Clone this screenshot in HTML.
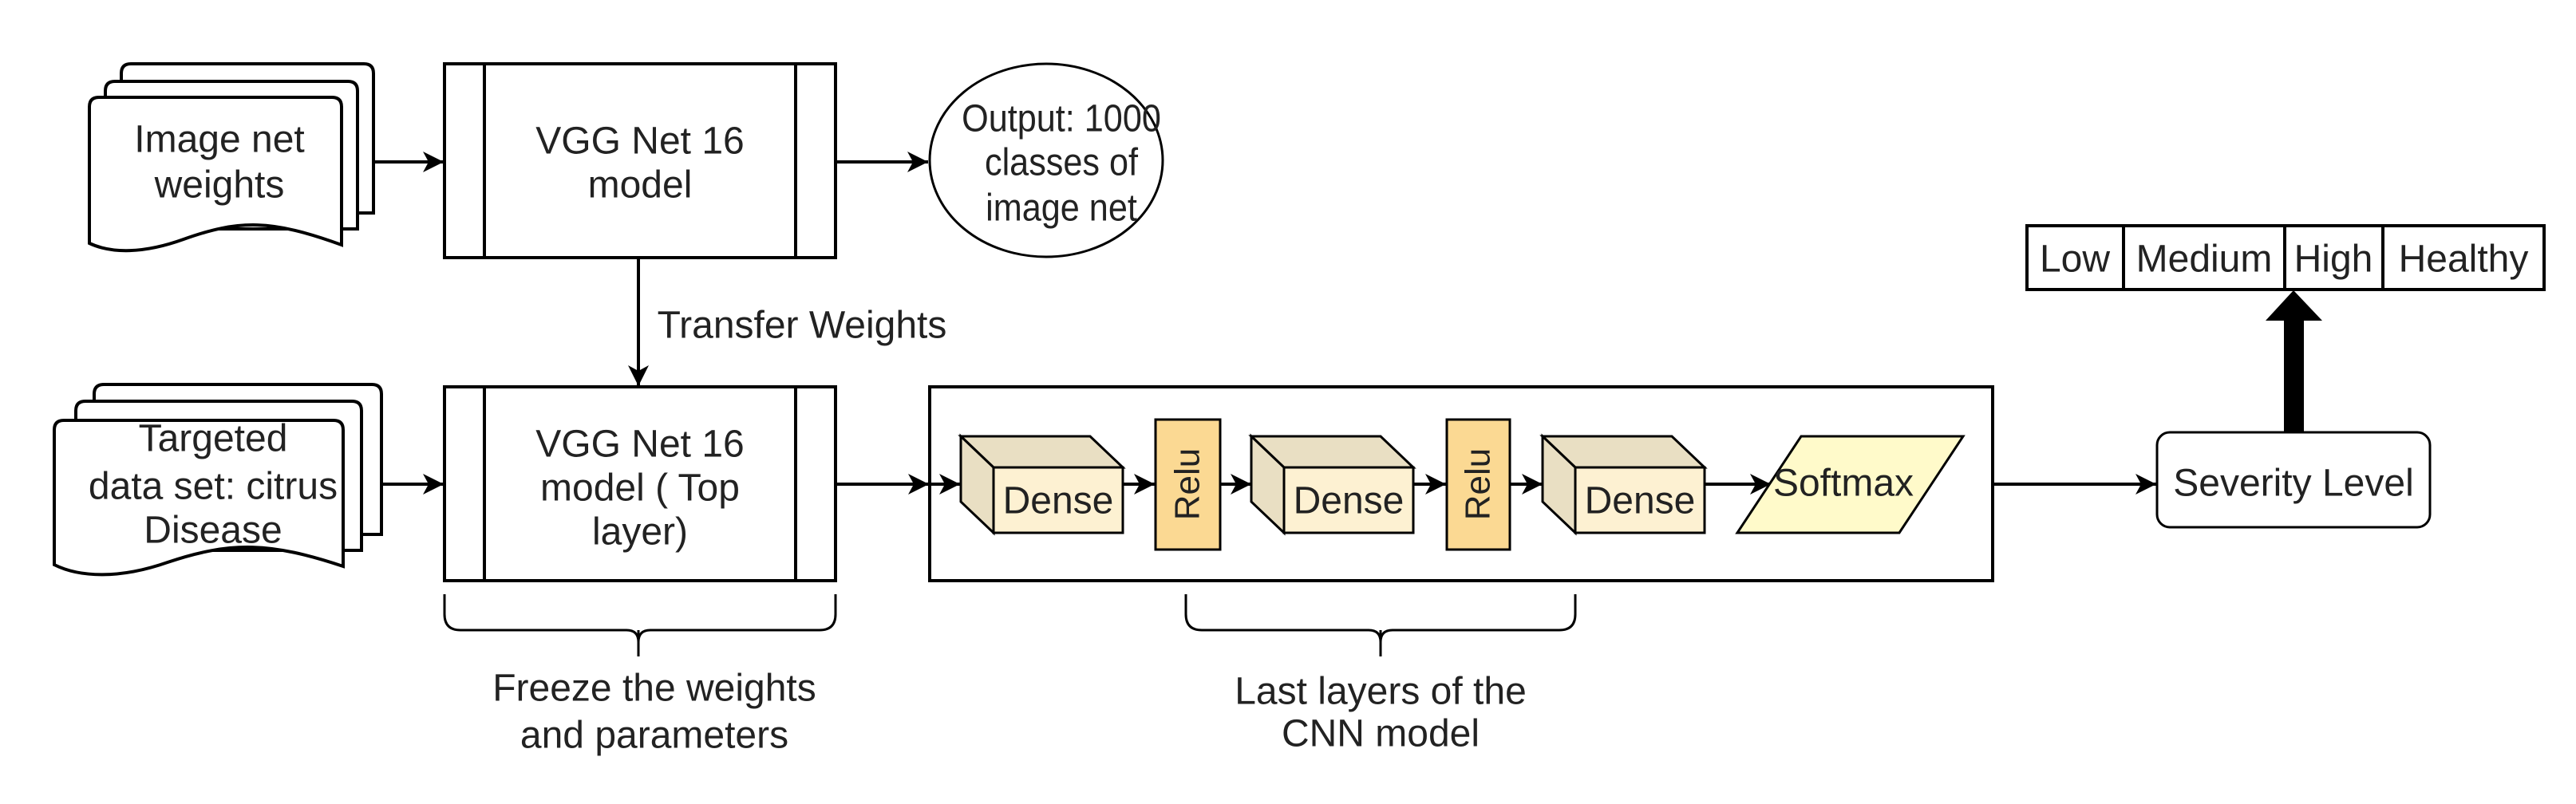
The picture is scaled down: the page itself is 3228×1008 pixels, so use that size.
<!DOCTYPE html>
<html><head><meta charset="utf-8"><style>
html,body{margin:0;padding:0;background:#fff;}
svg{display:block;}
text{font-family:"Liberation Sans",Arial,sans-serif;font-size:48px;fill:#222;text-anchor:middle;dominant-baseline:central;}
</style></head><body>
<svg width="3228" height="1008" viewBox="0 0 3228 1008" xmlns="http://www.w3.org/2000/svg">
<defs>
<marker id="ah" markerWidth="28" markerHeight="26" refX="26" refY="13" orient="auto" markerUnits="userSpaceOnUse">
<path d="M0,0 L26,13 L0,26 L7,13 Z" fill="#000"/>
</marker>
</defs>
<rect width="3228" height="1008" fill="#fff"/>

<g stroke="#000" stroke-width="4" fill="#fff">
<path d="M152,267 V92 Q152,80 164,80 H456 Q468,80 468,92 V267 Z"/>
<path d="M132,287 V114 Q132,102 144,102 H436 Q448,102 448,114 V287 Z"/>
<path d="M112,305 V134 Q112,122 124,122 H416 Q428,122 428,134 V307 C340,275 300,275 230,300 C180,318 140,318 112,305 Z"/>
</g>
<text x="275" y="175">Image net</text>
<text x="275" y="232">weights</text>

<g stroke="#000" stroke-width="4" fill="#fff">
<path d="M118,670 V494 Q118,482 130,482 H466 Q478,482 478,494 V670 Z"/>
<path d="M95,690 V515 Q95,503 107,503 H441 Q453,503 453,515 V690 Z"/>
<path d="M68,708 V539 Q68,527 80,527 H418 Q430,527 430,539 V710 C340,680 290,678 210,705 C150,726 100,724 68,708 Z"/>
</g>
<text x="267" y="550">Targeted</text>
<text x="267" y="610">data set: citrus</text>
<text x="267" y="665">Disease</text>

<g stroke="#000" stroke-width="4" fill="#fff">
<rect x="557" y="80" width="490" height="243"/>
<line x1="607" y1="80" x2="607" y2="323"/>
<line x1="997" y1="80" x2="997" y2="323"/>
<rect x="557" y="485" width="490" height="243"/>
<line x1="607" y1="485" x2="607" y2="728"/>
<line x1="997" y1="485" x2="997" y2="728"/>
</g>
<text x="802" y="177">VGG Net 16</text>
<text x="802" y="232">model</text>
<text x="802" y="557">VGG Net 16</text>
<text x="802" y="612">model ( Top</text>
<text x="802" y="667">layer)</text>

<ellipse cx="1311" cy="201" rx="146" ry="121" fill="#fff" stroke="#000" stroke-width="3"/>
<text transform="translate(1330,148) scale(0.9,1)">Output: 1000</text>
<text transform="translate(1330,203) scale(0.9,1)">classes of</text>
<text transform="translate(1330,260) scale(0.9,1)">image net</text>

<g stroke="#000" stroke-width="4" fill="none">
<line x1="468" y1="203" x2="556" y2="203" marker-end="url(#ah)"/>
<line x1="1047" y1="203" x2="1163" y2="203" marker-end="url(#ah)"/>
<line x1="800" y1="323" x2="800" y2="484" marker-end="url(#ah)"/>
<line x1="478" y1="607" x2="556" y2="607" marker-end="url(#ah)"/>
<line x1="1047" y1="607" x2="1164" y2="607" marker-end="url(#ah)"/>
</g>
<text x="1005" y="408">Transfer Weights</text>

<rect x="1165" y="485" width="1332" height="243" fill="#fff" stroke="#000" stroke-width="4"/>

<g stroke="#000" stroke-width="4" fill="none">
<line x1="1165" y1="607" x2="1203" y2="607" marker-end="url(#ah)"/>
<line x1="1407" y1="607" x2="1447" y2="607" marker-end="url(#ah)"/>
<line x1="1529" y1="607" x2="1568" y2="607" marker-end="url(#ah)"/>
<line x1="1772" y1="607" x2="1812" y2="607" marker-end="url(#ah)"/>
<line x1="1892" y1="607" x2="1933" y2="607" marker-end="url(#ah)"/>
<line x1="2137" y1="607" x2="2219" y2="607" marker-end="url(#ah)"/>
<line x1="2497" y1="607" x2="2702" y2="607" marker-end="url(#ah)"/>
</g>

<g stroke="#000" stroke-width="3">
<g>
<path d="M1204,547 H1366 L1407,586 H1245 Z" fill="#e9dfc3"/>
<path d="M1204,547 L1245,586 V668 L1204,629 Z" fill="#e9dfc3"/>
<rect x="1245" y="586" width="162" height="82" fill="#fdf1d2"/>
</g>
<g transform="translate(364,0)">
<path d="M1204,547 H1366 L1407,586 H1245 Z" fill="#e9dfc3"/>
<path d="M1204,547 L1245,586 V668 L1204,629 Z" fill="#e9dfc3"/>
<rect x="1245" y="586" width="162" height="82" fill="#fdf1d2"/>
</g>
<g transform="translate(729,0)">
<path d="M1204,547 H1366 L1407,586 H1245 Z" fill="#e9dfc3"/>
<path d="M1204,547 L1245,586 V668 L1204,629 Z" fill="#e9dfc3"/>
<rect x="1245" y="586" width="162" height="82" fill="#fdf1d2"/>
</g>
<rect x="1448" y="526" width="81" height="163" fill="#fbd993"/>
<rect x="1813" y="526" width="79" height="163" fill="#fbd993"/>
<path d="M2257,547 H2460 L2380,668 H2177 Z" fill="#fffaca"/>
</g>
<text x="1326" y="628">Dense</text>
<text x="1690" y="628">Dense</text>
<text x="2055" y="628">Dense</text>
<text style="font-size:44px" transform="translate(1488,607) rotate(-90)">Relu</text>
<text style="font-size:44px" transform="translate(1852,607) rotate(-90)">Relu</text>
<text x="2310" y="606">Softmax</text>

<g stroke="#000" stroke-width="3" fill="none">
<path d="M557,745 V770 Q557,790 577,790 H785 Q800,790 800,805 Q800,790 815,790 H1027 Q1047,790 1047,770 V745"/>
<line x1="800" y1="790" x2="800" y2="823"/>
<path d="M1486,745 V770 Q1486,790 1506,790 H1715 Q1730,790 1730,805 Q1730,790 1745,790 H1954 Q1974,790 1974,770 V745"/>
<line x1="1730" y1="790" x2="1730" y2="823"/>
</g>
<text x="820" y="863">Freeze the weights</text>
<text x="820" y="922">and parameters</text>
<text x="1730" y="867">Last layers of the</text>
<text x="1730" y="920">CNN model</text>

<rect x="2703" y="542" width="342" height="119" rx="16" fill="#fff" stroke="#000" stroke-width="3"/>
<text x="2874" y="606">Severity Level</text>

<rect x="2862" y="400" width="25" height="143" fill="#000"/>
<path d="M2839,402 L2874,364 L2910,402 Z" fill="#000"/>

<g stroke="#000" stroke-width="4" fill="#fff">
<rect x="2540" y="283" width="648" height="80"/>
<line x1="2661" y1="283" x2="2661" y2="363"/>
<line x1="2863" y1="283" x2="2863" y2="363"/>
<line x1="2986" y1="283" x2="2986" y2="363"/>
</g>
<text x="2600" y="325">Low</text>
<text x="2762" y="325">Medium</text>
<text x="2924" y="325">High</text>
<text x="3087" y="325">Healthy</text>
</svg>
</body></html>
